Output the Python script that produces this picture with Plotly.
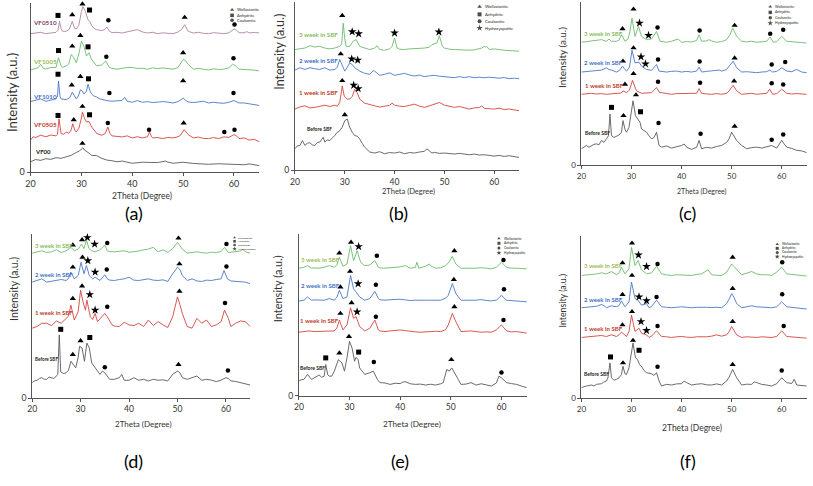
import plotly.graph_objects as go

# ---------------- data (2theta, intensity a.u. scaled 0-100 per panel) ----------------
A_VF00 = [(20,6.2),(21,7.5),(22,7),(23,8),(24,7.6),(25,8.6),(26,8.2),(27,9),(28,10),(29,11.7),(29.6,12.5),(30,13.7),(30.3,14.5),(30.6,13.2),(31,12.5),(31.5,11.2),(32,10),(33,9.8),(34,8.2),(35,7.2),(36,6.8),(37,6.2),(38,6.6),(40,5.3),(42,5.9),(44,5.5),(45,5.7),(46.5,6.6),(47,6),(48,5.3),(50,5.9),(52,5.2),(55,4.7),(57,5),(60,4.7),(62,4.4),(63,4.9),(65,3.9)]
A_VF0505 = [(20,19),(20.5,21),(21,20.5),(22,21.9),(23,21),(24,22),(25,21.5),(25.3,22.5),(25.6,31.6),(26,22.9),(26.5,22.5),(27,23.8),(27.5,23),(28,25),(28.3,28.7),(28.7,25),(29,23.8),(29.5,26),(30,32),(30.2,35.5),(30.6,32),(31,29.7),(31.5,30),(32,26.8),(32.5,25),(33,22.9),(34,21.9),(34.7,23),(35.2,26.8),(35.6,23),(36,21.5),(37,21),(38,20.9),(39,21.5),(40,20.3),(41,21),(42,20.3),(43,21),(43.4,23.8),(43.8,21),(44,20.3),(45,20.5),(46,19.9),(47,20.6),(48,20.3),(49,21),(49.5,21.9),(50.2,25.2),(51,22.3),(52,20.3),(53,20.8),(54,20),(55,19.9),(56,20.5),(57,19.9),(58,20.9),(59,20.6),(60,22.3),(60.5,21.5),(61,19.9),(62,20.3),(63,19),(64,19.5),(65,18)]
A_VF1010 = [(20,41.8),(21,42.5),(22,43.4),(23,42),(24,42.6),(25,43.4),(25.3,45),(25.5,54),(25.8,45),(26,43.4),(27,43),(27.7,44),(28.2,47.3),(28.7,44.5),(29,43.4),(29.4,45),(29.8,48.8),(30.2,48),(30.5,46.3),(31,48),(31.3,52.1),(31.7,48),(32,46.3),(32.5,45),(33,44.5),(33.5,43.5),(34,43),(35,42.4),(36,42),(37,42.2),(38,42.5),(38.5,44.3),(39,42),(40,41.4),(41,42.4),(42,41.4),(43,41.8),(44,41.2),(45,41.4),(46,41.8),(47,41.5),(48,41),(49,41.8),(50,43.8),(50.5,42.5),(51,41.6),(52,41.2),(53,41.6),(54,42),(55,41),(56,41.4),(57,41),(58,40.8),(59,41.4),(60,42.4),(61,41),(62,41),(63,40.5),(64,40.2),(65,39.5)]
A_VF1005 = [(20,60.5),(21,61.3),(21.5,61.9),(22,63.9),(22.5,61.5),(23,61),(24,62),(25,62),(25.5,67.8),(26,63),(26.3,62),(27,62.9),(27.5,64),(28,69.7),(28.5,67.8),(29,64.8),(29.5,70),(30,77.5),(30.5,74.6),(31,68.8),(31.5,70.7),(32,66.8),(33,62.9),(34,63.5),(34.8,65.8),(35.5,62),(36,61.5),(37,61),(38,61.5),(39,62),(40,62),(41,61.4),(42,61.5),(43,61),(44,61.8),(45,61.3),(46,61.7),(47,61.5),(48,61),(49,62),(49.5,64.8),(50,66.8),(50.5,66),(51,63.9),(52,61),(53,61.4),(54,61),(55,60.5),(56,61.2),(57,60.8),(58,61),(59,61.8),(59.7,63.9),(60.3,63),(61,61),(62,60.8),(63,61),(64,60.4),(65,60)]
A_VF0510 = [(20,82),(21,82.5),(22,82.8),(23,82),(24,82.4),(25,82.8),(25.4,84),(25.7,89.3),(26,85),(26.3,83.4),(27,83.4),(27.6,84.5),(28.2,89.3),(28.7,85),(29,84.8),(29.5,87),(30,95),(30.3,98),(30.8,95.1),(31.3,90.2),(31.7,89),(32,86.9),(32.5,85),(33,84.4),(34,83.8),(34.6,84.5),(35,85.9),(35.5,83.5),(36,82.6),(37,82.8),(38,82.4),(39,83),(40,83.4),(41,84.4),(42,83),(43,82.4),(44,82.8),(45,82),(46,82.5),(47,82.2),(48,82),(49,83),(49.7,84.5),(50.3,87.3),(50.8,85),(51,83.4),(52,82.4),(53,82.8),(54,82.2),(55,82),(56,82.6),(57,82.2),(58,82),(59,82.5),(59.6,84),(60,84.8),(60.5,84),(61,82.6),(62,82.5),(62.5,83.2),(63,82.5),(64,82.7),(65,82.4)]

B_BEFORE = [(20,12.7),(20.5,14.5),(21,14.7),(21.5,17.6),(22,14.7),(22.5,16),(23,16.3),(23.5,15),(24,14.7),(24.5,16.5),(25,16.7),(25.7,19.6),(26,16.7),(26.5,18),(27,17.6),(27.5,19),(28,20.6),(28.5,22.5),(29,23.5),(29.5,25.5),(30,29.4),(30.5,30.4),(31,25.5),(31.5,22.5),(32,20.6),(32.5,20.2),(33,18.6),(33.5,16),(34,13.7),(35,10.8),(36,10.2),(37,11),(38,9.8),(39,10.5),(40,10.2),(41,10.8),(42,9.8),(43,10.5),(44,10.2),(45,10.8),(46,11.2),(46.5,12.7),(47.5,10.2),(48,10.6),(49,10),(50,10.2),(51,9.8),(52,9.6),(53,10),(54,9.4),(55,9.2),(56,9.6),(57,9),(58,9.2),(59,8.8),(60,8.4),(61,8.8),(62,8.2),(63,8.6),(64,8),(65,7.6)]
B_1W = [(20,36.3),(21,37.5),(22,38.2),(23,37),(24,37.3),(25,38),(26,38.6),(27,37.8),(28,38.6),(28.5,38),(29,40.2),(29.5,50),(29.9,44),(30.5,42.2),(31,42.2),(31.5,43.7),(32,48),(32.5,46.1),(33,42.2),(34,39.8),(35,39.2),(36,38.2),(37,37.5),(38,37.8),(39,38.5),(39.5,39.8),(40,38.6),(41,38),(42,37.8),(43,38.5),(44,39.2),(45,38),(46,37.3),(47,38.2),(48,39.2),(49,40.2),(50,38.6),(51,38),(52,37.3),(53,37.8),(54,37),(55,36.3),(56,37),(57,37.2),(57.5,38.2),(58,36.7),(59,36.5),(60,36.3),(61,36.8),(62,36),(63,36.3),(64,35.8),(65,35.3)]
B_2W = [(20,59.4),(21,60.8),(22,59.8),(23,60.8),(24,60.2),(25,59.8),(26,60.8),(27,59.4),(28,59.8),(28.5,61),(29,65.7),(29.5,61.8),(30,58.8),(30.5,61),(31,63.7),(31.5,62.7),(32,60.8),(33,58.8),(34,57.5),(35,56.9),(35.7,59),(36,58.8),(37,56.3),(38,56.9),(39,57.8),(40,56.3),(41,57),(42,57.5),(43,56.5),(44,55.9),(45,56.5),(46,55.5),(47,56),(48,56.3),(49,55.8),(50,55.5),(51,55.2),(52,54.9),(53,55.5),(54,55),(55,55.5),(56,54.9),(57,55.2),(58,54.9),(59,55.2),(60,54.9),(61,54.6),(62,55),(63,54.3),(64,54.6),(65,54.3)]
B_3W = [(20,71.6),(21,72.2),(22,72.5),(23,73.9),(24,73.1),(25,73.5),(26,72.5),(27,72),(28,72.5),(29,73.5),(29.4,75),(29.7,87.3),(30,78),(30.3,73.5),(31,73.5),(31.7,76.5),(32.3,77.5),(33,73.5),(34,72.5),(35,71.6),(36,72.5),(36.5,73.9),(37,71.6),(38,71.2),(39,72),(39.5,73.5),(40,78.4),(40.5,72.5),(41,71.8),(42,71.6),(43,72),(44,72),(45,72.3),(46,72.5),(47,73),(47.5,74.5),(48.5,75.5),(49,79.8),(49.6,73.5),(50,72.5),(51,71.8),(52,71.6),(53,71.4),(54,71.6),(55,71.2),(56,71.4),(57,72),(57.5,72.5),(58,73.5),(58.3,73),(58.5,73.5),(59,71.6),(60,72),(60.5,72),(61,71.6),(62,71.2),(63,71),(64,70.8),(65,70.6)]

C_BEFORE = [(20,10.1),(20.5,11),(21,12.1),(21.5,11),(22,12.1),(22.5,12.8),(23,13.1),(23.5,12.5),(24,15.2),(24.5,14),(25,16.2),(25.4,18),(25.7,31.3),(26,18.2),(26.5,17),(27,17.8),(27.5,18.5),(28,20.2),(28.3,27.3),(28.7,22),(29,20.2),(29.5,23.2),(30,32.3),(30.3,39.4),(30.8,30.3),(31.3,28.3),(31.7,26.3),(32,22.2),(32.5,21),(33,20.2),(33.5,18),(34,16.2),(34.5,17),(35,20.2),(35.5,12.1),(36,11.1),(37,11.8),(38,10.5),(39,11.3),(40,12.1),(40.5,13),(41,11.1),(42,9.7),(43,11),(43.5,15.2),(44,10.1),(45,11),(46,10.5),(47,11.5),(48,12.1),(49,14),(49.5,16.2),(50,20.2),(50.5,18),(51,15.2),(52,12.1),(53,10.1),(54,10.8),(55,11.1),(56,10.5),(57,11.1),(58,12.1),(59,10.5),(60,15.2),(60.5,13),(61,11.1),(62,10.3),(63,9.1),(64,8.8),(65,7.7)]
C_1W = [(20,43.4),(21,43.8),(22,44),(23,43.6),(24,43.8),(25,43.4),(26,43.8),(27,43.8),(28,44.2),(28.3,45.5),(29,44.4),(29.6,46),(30.2,51.9),(30.8,47),(31,45.5),(32,44),(33,44.4),(34,44.4),(35,47.5),(35.6,44.5),(36,44.4),(37,43.8),(38,43.4),(39,43.8),(40,43.8),(41,43.6),(42,43.8),(43,44),(43.5,46.9),(44,44),(45,43.6),(46,43.4),(47,43.8),(48,43.4),(49,44),(49.5,45.5),(50.3,48.9),(51,45.5),(52,43.4),(53,43.8),(54,44),(55,43.4),(56,43.8),(57,44),(57.6,46.5),(58.2,43.4),(59,43.8),(60,46.5),(61,44),(62,43.6),(63,43.8),(64,43.4),(65,43.4)]
C_2W = [(20,57),(21,57.4),(22,57.6),(23,58),(24,58.2),(25,59.6),(25.5,58.5),(26,58.2),(27,57),(27.6,58),(28.2,60.6),(28.7,58.5),(29,57.6),(29.6,60),(30.1,70.3),(30.7,62.6),(31.5,63),(32,60.6),(33,58.6),(34,58),(35,61.6),(35.5,57.6),(36,57.4),(37,57),(38,57.4),(39,57.6),(40,57),(41,57.4),(42,57),(43,57.6),(43.5,60),(44,57),(45,57.4),(46,57.6),(47.5,58.2),(48,57.6),(49,58.5),(49.5,60.6),(50.3,63.6),(51,59.6),(52,57),(53,57.2),(54,57),(55,56.6),(56,57),(57,57.2),(57.6,58.2),(58.2,57),(59,57.4),(60,59.6),(61,57.6),(62,57.2),(63,58.6),(64,57),(65,56.6)]
C_3W = [(20,75.2),(21,75.6),(22,75.8),(23,76.2),(24,76.8),(25,75.8),(25.5,77.2),(26,75.8),(27,75.8),(27.5,76.5),(28,79.8),(28.7,75.8),(29.3,77),(29.7,82),(30.1,89.9),(30.7,78.8),(31.4,84.8),(32,78.8),(33,76.8),(34,77.2),(35,81.8),(35.7,75.8),(36,75.6),(37,75.2),(38,75.8),(39.3,77.2),(40,75.2),(41,75.6),(42,75.4),(43,76.2),(43.5,79.8),(44,75.8),(45,76),(45.5,76.8),(46,76),(47,75.2),(48,75.6),(49,76.8),(49.7,80),(50.2,83.8),(51,78.8),(52,75.8),(53,75.4),(54,75.8),(55,75.2),(56,75.6),(57,75.8),(57.7,78.4),(58.3,75.2),(59,75.6),(60,78.8),(61,75.8),(62,75.4),(63,75.2),(64,75),(65,74.7)]

D_BEFORE = [(20,9.5),(20.5,10.5),(21,10.9),(21.5,12),(22,12.5),(22.5,11.5),(23,11.5),(23.5,12.8),(24,12.5),(24.5,12),(25,13.5),(25.3,14.5),(25.6,38.6),(25.9,16),(26.5,15),(27,15.5),(27.5,17),(28,22.5),(28.5,20.5),(29,18.5),(29.5,25),(29.8,31.6),(30.3,30.6),(30.8,22.5),(31.3,33.6),(31.8,30.6),(32.3,21.5),(33,18.5),(34,14.5),(34.5,16.5),(35,15.5),(35.5,13.5),(36,11.5),(37,11.5),(38,12.5),(38.5,14.5),(39,10.9),(40,10.9),(41,12.5),(42,10.9),(43,11.5),(44,10.5),(45,11.5),(46,10.9),(47,11.2),(48,10.5),(49,14.5),(49.5,15.5),(50,16.5),(50.5,15.5),(51,12.5),(52,11.5),(53,12.5),(54,13.5),(55,10.9),(56,11.5),(57,11),(58,10.1),(59,11),(60,12.5),(60.5,12),(61,10.5),(62,10.2),(63,9.5),(64,9),(65,8)]
D_1W = [(20,42.7),(21,43.7),(22,45.7),(23,45.7),(24,44.3),(25,47.1),(26,45.7),(27,48.3),(27.5,50),(28,56.7),(28.7,47.7),(29.5,52.7),(30,65.8),(30.5,58.8),(31,53.7),(31.3,59.8),(32,49.7),(32.5,48),(33,51.7),(33.5,46.7),(34.5,49.7),(35,51.7),(35.5,49.7),(36.5,44.7),(37,44),(38,43.7),(39,46.3),(40,44.7),(41,44.3),(42,45.7),(43,43.7),(44,47.7),(45,44.3),(46,46.7),(47,44.7),(48,43.1),(49,49.7),(49.5,55),(50,61.8),(50.5,57),(51,51.7),(52,43.7),(53,42.7),(54,48.7),(55,45.7),(56,47.7),(57,43.7),(58,44.7),(59,46.7),(59.7,53.7),(60.5,48.7),(61,43.7),(62,45.7),(63,47.1),(64,46.7),(65,43.7)]
D_2W = [(20,70.8),(21,71.8),(22,72.8),(23,70.8),(24,71.2),(25,71.8),(26,72.4),(27,71.8),(27.5,73),(28,76.9),(28.7,72.8),(29.5,74.8),(30.1,82.9),(30.7,75.9),(31.2,80.9),(31.8,74.8),(32.5,72.8),(33,73.8),(34,71.8),(35,75.3),(35.5,72.8),(36,72),(37,71.8),(38,72.4),(39,72.8),(40,73.8),(41,72),(42,71.8),(43,72.4),(44,72.8),(45,72),(46,71.8),(47,72.2),(48,71.2),(49,75.9),(49.5,78),(50,79.9),(50.5,78.5),(51,74.8),(52,71.8),(53,72.8),(54,71.5),(55,71.2),(56,72),(57,71.8),(58,72.4),(59,72.8),(59.6,77.9),(60.3,72.8),(61,71.5),(62,71.2),(63,71),(64,70.8),(65,69.8)]
D_3W = [(20,88.5),(21,89.3),(22,89.9),(23,88.9),(24,89.3),(25,90.5),(26,88.9),(27,89.9),(28,92),(28.7,89.9),(29.5,90.9),(30.2,94),(30.7,91.3),(31.2,96.6),(31.7,91.5),(32.3,89.9),(33,89.3),(34,90.5),(35,93.4),(35.5,89.9),(36,89.5),(37,89.3),(38,89.6),(39,89.9),(40,89),(41,89.3),(42,89.8),(43,90.5),(44,91),(45,92),(46,89.3),(47,90.5),(48,88.9),(49,91.3),(50,95),(50.5,93),(51,90.9),(52,88.5),(53,89),(54,89.3),(55,88.8),(56,88.5),(57,89),(58,88.9),(59,89.5),(59.7,92),(60.5,88.9),(61,89),(62,89.3),(63,89.8),(63.5,90.9),(64,89.3),(65,88.5)]

E_BEFORE = [(20,9.2),(20.5,10),(21,10.2),(21.7,13.3),(22.5,10.2),(23,11.2),(23.5,12),(24,12.9),(24.5,11.5),(25,12.2),(25.3,19.4),(25.7,13),(26,12.2),(26.5,12.2),(27,15.3),(27.5,19),(27.8,22.4),(28.5,20.4),(29,15.3),(29.5,23.5),(30,33.7),(30.5,29.6),(31,21.4),(31.3,23.9),(31.7,22.4),(32,17.3),(32.5,15),(33,13.3),(34,14.3),(34.7,15.3),(35.5,10.2),(36,8.2),(37,8),(38,7.1),(39,7.8),(40,7.6),(40.5,8.5),(41,8.8),(42,7.5),(43,7.1),(44,7.3),(45,6.7),(46,7.2),(47,6.7),(48,7.5),(48.5,8.2),(49.2,16.3),(49.7,15.3),(50.2,17.3),(51,13.3),(51.5,10),(52,7.1),(53,7.3),(54,8.2),(55,6.7),(56,7.5),(57,6.7),(58,6.1),(59,8),(59.5,12.2),(60,11.2),(61,8.2),(62,7.6),(63,7.1),(64,6),(65,5.1)]
E_1W = [(20,39.4),(21,39.8),(22,40.2),(23,39.8),(24,39.8),(25,40.2),(26,39.8),(27,40.2),(27.5,42),(28,46.9),(28.7,40.8),(29.5,43.9),(30.2,54.5),(30.8,48),(31.3,49),(32,42.9),(33,40.2),(34,41.8),(35,46.9),(35.7,40.8),(36,40.2),(37,39.8),(38,40.2),(39,40.5),(40,40.8),(41,40.4),(42,39.8),(43,39.6),(44,39.4),(45,39.8),(46,39.8),(47,40),(48,39.8),(49,41),(49.5,43.9),(50.3,51),(51,45.9),(52,39.8),(53,40),(54,40.2),(55,39.8),(56,39.4),(57,39.6),(58,39.4),(59,40.8),(60,43.9),(61,40.2),(62,39.6),(63,39.8),(64,39.2),(65,38.8)]
E_2W = [(20,58.6),(21,59.2),(21.7,61.2),(22.5,59.2),(23,59.4),(24,59.2),(25,59.2),(26,60.2),(27,59.2),(27.5,61),(28,65.3),(28.7,60.2),(29.5,61.2),(30.2,74.5),(30.8,66.3),(31.3,64.3),(32,61.2),(33,59.2),(34,60.2),(35,64.7),(35.7,60.2),(36,59.5),(37,59.2),(38,59.5),(39,59.8),(40,59.8),(41,59.4),(42,59),(43,59.2),(44,59.4),(45,59.2),(46,59.2),(47,59.4),(48,59.2),(49,60.5),(49.5,62.2),(50.3,69.4),(51,63.3),(52,59.2),(53,59.4),(54,59.2),(55,59.2),(56,59.6),(57,59),(58,58.8),(59,59.2),(60,62.2),(61,59.2),(62,59),(63,58.8),(64,58.5),(65,58.2)]
E_3W = [(20,79),(21,79.6),(21.7,80.6),(22.5,79),(23,79.2),(24,79),(25,79.6),(26,80.6),(27,79.6),(27.5,81),(28,85.7),(28.7,80.2),(29.5,81.6),(30.2,92.9),(30.8,83.7),(31.5,89.8),(32.2,82.7),(33,80.6),(34,81),(35,83.7),(35.7,79.6),(36,79.2),(37,79),(38,79.3),(39,79.6),(40,79.8),(41,80.6),(42,79),(43,79.5),(43.3,82.7),(43.7,79),(44.5,79.8),(45,80.2),(45.7,81.6),(46.3,80),(47,79),(48,79.3),(49,80.6),(49.7,83),(50.3,86.3),(51,81.6),(52,79),(53,79.2),(54,79),(55,79),(56,79.3),(57,79),(58,78.6),(59,79.6),(60,82.7),(61,79.6),(62,79),(63,79),(64,78.8),(65,78.6)]

F_BEFORE = [(20,6.5),(20.5,7.2),(21,7.5),(22,8.1),(22.5,7.5),(23,8.5),(24,8.9),(24.5,10),(25,10.6),(25.3,12.6),(25.7,21.7),(26,12.6),(26.5,11),(27,11.6),(27.5,12.5),(28,14.6),(28.3,19.7),(28.7,15),(29,14.6),(29.5,18.7),(30,26.8),(30.3,33.9),(30.8,24.8),(31.2,23.8),(31.6,20.7),(32,19.7),(32.5,17),(33,15.7),(34,15),(34.5,14),(35,15.7),(35.5,10.6),(36,7.5),(37,8.5),(38,8.1),(39,8.8),(40,8.9),(40.5,10.5),(41,9.6),(42,8.1),(43,8.6),(44,8.9),(45,8.2),(46,8.1),(47,8.8),(48,8.1),(49,10.6),(49.5,13),(50.2,17.7),(51,12.6),(52,8.1),(53,8.6),(54,8.5),(54.5,10),(55,9.6),(56,8.5),(57,8.1),(58,7.5),(59,8.9),(60,12.6),(60.5,11),(61,9.6),(62,9),(62.5,11.6),(63,8.1),(64,7.8),(65,7.5)]
F_1W = [(20,37.4),(21,37.6),(22,38),(23,38.2),(24,38.6),(25,38),(26,39),(27,38),(27.5,39),(28,40.7),(29,38),(29.5,41),(30,51.2),(30.7,41.1),(31.5,43.1),(32,40),(33,39),(33.5,37.4),(34,38.2),(35,41.5),(36,38),(37,37.8),(38,37.4),(39,37.8),(40,38),(41,37.6),(42,37.4),(43,37.8),(44,37.6),(45,37.8),(46,38.2),(47,39),(48,38.2),(49,39),(49.5,41),(50,44.1),(51,39),(52,37.4),(53,37.8),(54,37.6),(55,37.4),(56,37.8),(57,37.6),(58,37.4),(59,38),(60,41.5),(61,38),(62,37.6),(63,37.4),(64,37.2),(65,37)]
F_2W = [(20,55.7),(21,56),(22,56.3),(23,56.6),(24,57.7),(24.5,57),(25,55.7),(26,56.9),(27,56.3),(27.5,57),(28,59.8),(28.7,56.3),(29.5,59.3),(30,71.5),(30.7,61.4),(31.3,60.4),(32,57.3),(33,58.3),(33.5,55.7),(34,56.5),(35,60.4),(36,56.3),(37,56),(38,55.7),(39,56),(40,56.3),(41,56),(42,55.7),(43,56),(44,56.2),(45,56),(46,55.8),(47,56),(48,55.7),(49,58.3),(49.5,61),(50,64.4),(50.5,62),(51,58.3),(52,55.7),(53,56.3),(54,56.9),(55,56.3),(56,56),(57,55.9),(58,55.7),(59,56.3),(60,59.3),(61,56.3),(62,56),(63,55.7),(64,55.4),(65,54.9)]
F_3W = [(20,75.6),(21,75.9),(22,76),(23,76.5),(24,77.2),(25,76.6),(26,78),(27,76),(27.5,77),(28,80.7),(28.7,76.6),(29.5,79.7),(30,92.9),(30.7,81.7),(31.3,84.8),(32,79.1),(33,76.6),(34,77.2),(35,81.3),(36,76.6),(37,75.9),(38,75.6),(39,76),(40,76),(41,75.8),(42,75.6),(43,76.2),(44,76.6),(45.3,79.1),(46,76),(47,75.7),(48,75.6),(49,77.6),(49.5,80),(50,82.7),(50.5,81),(51,79.1),(52,76),(53,77),(54,78),(55,76.6),(56,76),(57,76),(58,75.6),(59,77.6),(60,80.7),(61,76.6),(62,76.2),(63,76),(64,75.6),(65,75.2)]

# phase markers (2theta, height)
A_TRI = [(28.2,93.2),(30.2,99.5),(50.3,91.6),(28.2,74.6),(29.8,80.9),(50,70.7),(28.1,51.6),(29.8,56.6),(50,54.1),(28.5,31),(30.2,38.9),(50.1,29.1),(30.2,17)]
A_SQ = [(25.4,92.8),(31.6,96),(25.5,72),(31.3,74.2),(25.4,58),(31.4,55.3),(25.4,33.6),(31.6,34)]
A_CIR = [(35.3,90),(60.1,87.5),(34.9,68.4),(59.9,67.4),(35.5,46.9),(59.9,46.9),(35.2,29.1),(43.3,25.2),(58.1,23.8),(60.1,25.2)]
A_STAR = []
B_TRI = [(29.5,91.8),(29.2,69),(29.5,53.1),(30,32.9)]
B_SQ = []
B_CIR = []
B_STAR = [(31.5,82.2),(32.8,81),(40,81.4),(48.9,82),(31.4,66),(32.6,65.3),(31.8,50.4),(32.7,48.4)]
C_TRI = [(28.2,83.4),(30.4,95.4),(50.6,85.5),(28.3,63.6),(30.4,71.7),(50.6,65.5),(28.7,49.5),(30.4,56),(50.5,51.5),(28.4,30.3),(30.9,43),(50.6,23.8)]
C_SQ = [(26,35.4),(31.8,32.7)]
C_CIR = [(35.2,84.2),(43.6,82.4),(57.7,80.4),(60.3,82.8),(35.3,64.6),(43.6,63.4),(58,61.6),(60.7,63.2),(35.3,51.1),(43.7,50.5),(58,50.1),(60.3,49.3),(35.4,25.9),(43.8,19.2),(58,15.6),(60.3,18.8)]
C_STAR = [(31.6,86.9),(33.4,79.4),(31.9,66.3),(32.8,62)]
D_TRI = [(28.4,93.4),(30.3,96.6),(50.2,97.6),(28.4,79.9),(30.4,85.9),(50.4,81.9),(28.4,60.8),(30.3,68.4),(50.4,65.2),(28.4,26.6),(30,35),(50.2,20.5)]
D_SQ = [(25.9,42),(31.9,37)]
D_CIR = [(35.5,94.6),(60.1,94),(35.4,78.5),(60.1,80.3),(35.5,55.7),(59.8,58.1),(35,18.9),(60.4,16.9)]
D_STAR = [(31.4,98),(32.9,94),(31.5,83.9),(33,76.9),(31.9,63.2),(33,53.7)]
E_TRI = [(28,88.4),(30.3,95),(50.7,89.8),(28.2,67.3),(30.1,77),(50.6,72),(28.2,51),(30.4,57.6),(50.7,55.1),(28,26.5),(29.9,36.7),(50.1,22.4)]
E_SQ = [(25.3,23.5),(31.8,27.1)]
E_CIR = [(35.4,86.7),(60.4,84.1),(35.2,68.8),(60.5,65.9),(35.2,49),(60.4,46.9),(34.8,21),(60,14.5)]
E_STAR = [(31.8,92.4),(31.7,69.4),(31.5,52)]
F_TRI = [(28.2,83.3),(30.1,95.5),(50.2,86.8),(28.2,63.8),(30.1,75.6),(50.2,67.5),(28.2,45.1),(30.1,53.3),(50.2,47.2),(28.3,21.7),(30.3,35.6),(50.2,20.7)]
F_SQ = [(25.8,25.4),(31.5,29.5)]
F_CIR = [(35.2,82.7),(60.1,83.7),(35,62.4),(60.1,64),(35.2,44.5),(60.4,44.5),(35.2,19.3),(60,17.1)]
F_STAR = [(31.4,88.2),(33,81.1),(31.5,62.4),(33,60),(31.9,47.2),(33,41.7)]

# sample labels
A_NAMES = ["VF0510", "VF1005", "VF1010", "VF0505", "VF00"]
SBF_NAMES = ["3 week in SBF", "2 week in SBF", "1 week in SBF", "Before SBF"]
PHASES_3 = ["Wollastonite", "Anhydrite", "Coulsonite"]
PHASES_4 = ["Wollastonite", "Anhydrite", "Coulsonite", "Hydroxyapatite"]
PANEL_TAGS = ["(a)", "(b)", "(c)", "(d)", "(e)", "(f)"]
X_TICKS = [20, 30, 40, 50, 60]

# ---------------- styling ----------------
W, H = 813, 486
FONT = "Lato, 'Open Sans', Arial, sans-serif"
GRAY, RED, BLUE, GREEN, PURPLE = "#5a5a5a", "#d2453f", "#4a78c8", "#6cbb6c", "#ad84a6"
T_GREEN, T_BLUE, T_RED, T_BLACK, T_PURPLE, T_VF1005 = "#86bd5c", "#4472c4", "#c0392b", "#1a1a1a", "#7b3f6e", "#9bbb59"

def px(x): return x / W
def py(y): return 1 - y / H

panels = [
    dict(dom=(25.7, 256, 3.3, 174), traces=[(A_VF00, GRAY), (A_VF0505, RED), (A_VF1010, BLUE), (A_VF1005, GREEN), (A_VF0510, PURPLE)],
         marks=(A_TRI, A_SQ, A_CIR, A_STAR),
         labels=[(A_NAMES[0], 20.2, 88.5, T_PURPLE, 6.3), (A_NAMES[1], 20.2, 65.5, T_VF1005, 6.3), (A_NAMES[2], 20.2, 44.8, T_BLUE, 6.3),
                 (A_NAMES[3], 20.2, 28, T_RED, 6.3), (A_NAMES[4], 20.7, 12.5, T_BLACK, 6)],
         legend=(PHASES_3, 228.5, 232, [10, 15.5, 20.5], 4, 3.6),
         tick=9, xt=(138, 198, 8.5), yt=(7, 93, 13), tag=(130, 215)),
    dict(dom=(291.7, 517.3, 1.7, 172), traces=[(B_BEFORE, GRAY), (B_1W, RED), (B_2W, BLUE), (B_3W, GREEN)],
         marks=(B_TRI, B_SQ, B_CIR, B_STAR),
         labels=[(SBF_NAMES[0], 20.6, 80.8, T_GREEN, 6.2), (SBF_NAMES[1], 20.6, 65, T_BLUE, 6.2), (SBF_NAMES[2], 20.6, 46, T_RED, 6.2),
                 (SBF_NAMES[3], 22.2, 24.5, T_BLACK, 5)],
         legend=(PHASES_4, 477.5, 482, [6.7, 14.5, 21.5, 28.3], 4.2, 4),
         tick=8.6, xt=(406, 193, 7.5), yt=(276, 52, 12.5), tag=(396, 215)),
    dict(dom=(580, 806.7, 1.7, 167), traces=[(C_BEFORE, GRAY), (C_1W, RED), (C_2W, BLUE), (C_3W, GREEN)],
         marks=(C_TRI, C_SQ, C_CIR, C_STAR),
         labels=[(SBF_NAMES[0], 20.4, 80.8, T_GREEN, 6.1), (SBF_NAMES[1], 20.3, 63, T_BLUE, 6.1), (SBF_NAMES[2], 20.5, 48.5, T_RED, 6.1),
                 (SBF_NAMES[3], 20.6, 19.8, T_BLACK, 5)],
         legend=(PHASES_4, 770, 774, [6.7, 12.5, 18, 23.3], 3.5, 3.4),
         tick=8, xt=(701, 193, 7), yt=(561, 58, 10), tag=(687, 215)),
    dict(dom=(27.3, 246.7, 236.7, 402.3), traces=[(D_BEFORE, GRAY), (D_1W, RED), (D_2W, BLUE), (D_3W, GREEN)],
         marks=(D_TRI, D_SQ, D_CIR, D_STAR),
         labels=[(SBF_NAMES[0], 20.3, 93.4, T_GREEN, 6), (SBF_NAMES[1], 20.3, 75.3, T_BLUE, 6), (SBF_NAMES[2], 20.3, 52.1, T_RED, 6),
                 (SBF_NAMES[3], 20.3, 23.9, T_BLACK, 4.6)],
         legend=(PHASES_4, 231, 233.5, [240, 243.8, 247.6, 251.4], 2.6, 2.6),
         tick=8.6, xt=(139, 428, 8), yt=(9, 292, 10.5), tag=(129, 466)),
    dict(dom=(295.7, 525, 236.7, 400), traces=[(E_BEFORE, GRAY), (E_1W, RED), (E_2W, BLUE), (E_3W, GREEN)],
         marks=(E_TRI, E_SQ, E_CIR, E_STAR),
         labels=[(SBF_NAMES[0], 20.2, 84.3, T_VF1005, 6.1), (SBF_NAMES[1], 20.2, 68, T_BLUE, 6.1), (SBF_NAMES[2], 20.1, 46.9, T_RED, 6.1),
                 (SBF_NAMES[3], 20.1, 17.3, T_BLACK, 5)],
         legend=(PHASES_4, 497, 501, [241, 245.8, 250.6, 255.4], 3.2, 3),
         tick=8.6, xt=(410, 428, 8.2), yt=(275, 292, 11), tag=(397, 466)),
    dict(dom=(580, 806.7, 238.3, 402.3), traces=[(F_BEFORE, GRAY), (F_1W, RED), (F_2W, BLUE), (F_3W, GREEN)],
         marks=(F_TRI, F_SQ, F_CIR, F_STAR),
         labels=[(SBF_NAMES[0], 20.4, 81.7, T_VF1005, 6.1), (SBF_NAMES[1], 20.3, 61, T_BLUE, 6.1), (SBF_NAMES[2], 20.4, 43.1, T_RED, 6.1),
                 (SBF_NAMES[3], 20.4, 15, T_BLACK, 5)],
         legend=(PHASES_4, 777, 781, [246.7, 250.9, 255.1, 259.3], 3.2, 3),
         tick=8, xt=(691, 432, 8.5), yt=(561, 304, 8.8), tag=(687, 466)),
]

SYMS = ["triangle-up", "square", "circle", "star"]
SYM_SIZE = [5.5, 5, 4.5, 6.5]

fig = go.Figure()
layout = dict(width=W, height=H, margin=dict(l=0, r=0, t=0, b=0), paper_bgcolor="white", plot_bgcolor="rgba(0,0,0,0)",
              showlegend=False, font=dict(family=FONT, color="#333"))
annotations = []
leg_x, leg_y, leg_s, leg_sz = [], [], [], []

for i, p in enumerate(panels):
    s = "" if i == 0 else str(i + 1)
    xa, ya = "x" + s, "y" + s
    l, r, t, b = p["dom"]
    layout["xaxis" + s] = dict(domain=[px(l), px(r)], anchor=ya, range=[20, 65], tickvals=X_TICKS,
                               showline=True, linecolor="#555", linewidth=1, ticks="outside", ticklen=3,
                               tickcolor="#555", showgrid=False, zeroline=False,
                               tickfont=dict(size=p["tick"], color="#333"))
    layout["yaxis" + s] = dict(domain=[py(b), py(t)], anchor=xa, range=[0, 100], tickvals=[0], ticktext=["0"],
                               showline=True, linecolor="#555", linewidth=1, ticks="outside", ticklen=3,
                               tickcolor="#555", showgrid=False, zeroline=False,
                               tickfont=dict(size=p["tick"], color="#333"))
    for data, col in p["traces"]:
        fig.add_trace(go.Scatter(x=[d[0] for d in data], y=[d[1] for d in data], mode="lines",
                                 line=dict(color=col, width=0.9), xaxis=xa, yaxis=ya, hoverinfo="skip"))
    for k, pts in enumerate(p["marks"]):
        if not pts:
            continue
        fig.add_trace(go.Scatter(x=[d[0] for d in pts], y=[d[1] for d in pts], mode="markers", cliponaxis=False,
                                 marker=dict(symbol=SYMS[k], size=SYM_SIZE[k], color="black", line=dict(width=0)),
                                 xaxis=xa, yaxis=ya, hoverinfo="skip"))
    for text, x, y, col, fs in p["labels"]:
        annotations.append(dict(text="<b>%s</b>" % text, x=x, y=y, xref=xa, yref=ya, xanchor="left", yanchor="middle",
                                showarrow=False, borderpad=0, font=dict(size=fs, color=col)))
    names, gx, tx, rows, fs, gs = p["legend"]
    for k, (nm, ry) in enumerate(zip(names, rows)):
        leg_x.append(gx); leg_y.append(ry); leg_s.append(SYMS[k]); leg_sz.append(gs * (1.25 if k == 3 else 1))
        annotations.append(dict(text=nm, x=px(tx), y=py(ry), xref="paper", yref="paper", xanchor="left",
                                yanchor="middle", showarrow=False, borderpad=0,
                                font=dict(size=fs, color="#222")))
    xx, xy, xs = p["xt"]
    annotations.append(dict(text="2Theta (Degree)", x=px(xx), y=py(xy), xref="paper", yref="paper",
                            xanchor="center", yanchor="middle", showarrow=False, font=dict(size=xs, color="#333")))
    yx, yy, ys = p["yt"]
    annotations.append(dict(text="Intensity (a.u.)", x=px(yx), y=py(yy), xref="paper", yref="paper", textangle=-90,
                            xanchor="center", yanchor="middle", showarrow=False, font=dict(size=ys, color="#333")))
    tx_, ty_ = p["tag"]
    annotations.append(dict(text=PANEL_TAGS[i], x=px(tx_), y=py(ty_), xref="paper", yref="paper",
                            xanchor="center", yanchor="middle", showarrow=False,
                            font=dict(size=18, color="black", family="'Liberation Sans Narrow', Lato, sans-serif")))

# overlay pixel-space axis for the small legend glyphs
layout["xaxis7"] = dict(domain=[0, 1], range=[0, W], visible=False, anchor="y7", fixedrange=True)
layout["yaxis7"] = dict(domain=[0, 1], range=[H, 0], visible=False, anchor="x7", fixedrange=True)
fig.add_trace(go.Scatter(x=leg_x, y=leg_y, mode="markers", xaxis="x7", yaxis="y7", hoverinfo="skip",
                         marker=dict(symbol=leg_s, size=leg_sz, color="black", line=dict(width=0))))

layout["annotations"] = annotations
fig.update_layout(**layout)
fig.write_html("out.html", config={"displayModeBar": False, "staticPlot": True},
               post_script="document.body.style.margin='0';document.body.style.padding='0';")
